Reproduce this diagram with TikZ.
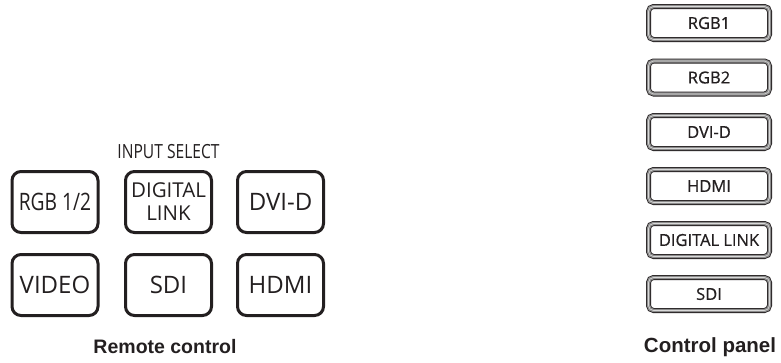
\documentclass[tikz,border=0pt]{standalone}
\usepackage{fontspec}
\setmainfont{Open Sans}
\newfontfamily\keyfont{Open Sans}
\newfontfamily\headfont{Open Sans}[FakeStretch=0.8]
\newfontfamily\panelfont{Open Sans}[FakeBold=0.6]
\newfontfamily\capfont{Liberation Sans}
\usetikzlibrary{positioning}
\definecolor{ink}{HTML}{231F20}
\definecolor{band}{HTML}{8C8C8C}
\definecolor{bandhi}{HTML}{D9D9D9}
\tikzset{
  rkey/.style={draw=ink,line width=3pt,rounded corners=9pt,fill=white,
    minimum width=86pt,minimum height=61pt,inner sep=0pt,
    font=\keyfont\fontsize{24}{24}\selectfont,text=ink},
  pkey/.style={draw=ink,line width=0.8pt,double=band,double distance=3.4pt,
    rounded corners=5pt,fill=white,minimum width=121pt,minimum height=33pt,
    inner sep=0pt,font=\panelfont\fontsize{16.5}{17}\selectfont,text=ink,
    postaction={draw=bandhi,line width=0.6pt,double=none}},
  caption/.style={font=\capfont\bfseries\fontsize{19.5}{20}\selectfont,text=ink},
}

\begin{document}
\begin{tikzpicture}[x=1pt,y=1pt]
  \useasboundingbox (0,0) rectangle (781,-362);
  % remote control keys
  \node[rkey,font=\headfont\fontsize{24}{24}\selectfont] (r-rgb) at (55,-202) {RGB 1/2};
  \foreach \n/\x/\y/\lb in {dvid/280.5/202/DVI-D,
      video/55/285/VIDEO,sdi/168.5/285/SDI,hdmi/280.5/285/HDMI}
    \node[rkey] (r-\n) at (\x,-\y) {\lb};
  \node[rkey,align=center,font=\keyfont\fontsize{20.5}{23}\selectfont] (r-dlink) at (168.5,-202) {DIGITAL\\LINK};
  \node[font=\headfont\fontsize{19.5}{20}\selectfont,text=ink,above=8pt of r-dlink] (insel) {INPUT SELECT};
  \node[caption] (remcap) at (165,-347) {Remote control};
  % control panel keys
  \foreach \n/\y/\lb in {rgba/23/RGB1,rgbb/77.5/RGB2,dvid/132/DVI-D,
      hdmi/186/HDMI,dlink/240/DIGITAL LINK,sdi/294/SDI}
    \node[pkey] (p-\n) at (709,-\y) {\lb};
  \node[caption,font=\capfont\bfseries\fontsize{20.5}{21}\selectfont] (pancap) at (710,-347) {Control panel};
\end{tikzpicture}
\end{document}
